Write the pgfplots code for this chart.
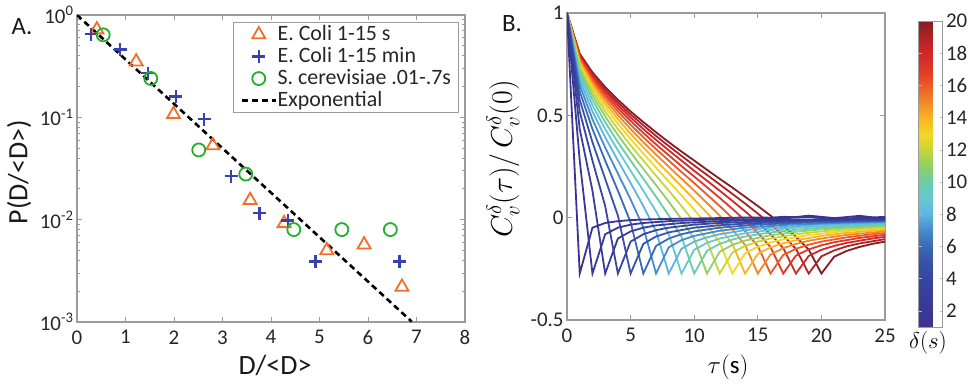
\documentclass[border=0pt]{standalone}
\usepackage{fix-cm}
\usepackage{pgfplots}
\pgfplotsset{compat=1.18}
\usepackage{fontspec}
\setmainfont{Carlito}

\definecolor{axgray}{RGB}{155,155,155}
\definecolor{morange}{RGB}{245,110,40}
\definecolor{mblue}{RGB}{55,65,175}
\definecolor{mgreen}{RGB}{35,175,45}

\definecolor{c1}{RGB}{60,50,145}
\definecolor{c2}{RGB}{58,55,150}
\definecolor{c3}{RGB}{56,62,155}
\definecolor{c4}{RGB}{55,70,160}
\definecolor{c5}{RGB}{55,82,168}
\definecolor{c6}{RGB}{58,105,182}
\definecolor{c7}{RGB}{70,140,205}
\definecolor{c8}{RGB}{95,180,225}
\definecolor{c9}{RGB}{100,200,210}
\definecolor{c10}{RGB}{105,205,170}
\definecolor{c11}{RGB}{145,208,100}
\definecolor{c12}{RGB}{195,215,60}
\definecolor{c13}{RGB}{245,215,35}
\definecolor{c14}{RGB}{248,180,35}
\definecolor{c15}{RGB}{243,135,40}
\definecolor{c16}{RGB}{235,90,40}
\definecolor{c17}{RGB}{225,55,40}
\definecolor{c18}{RGB}{210,40,40}
\definecolor{c19}{RGB}{175,35,38}
\definecolor{c20}{RGB}{135,28,35}

\newcommand{\legfont}{\fontsize{22}{23}\selectfont}

\pgfplotsset{
  colormap={delta}{rgb255(0cm)=(60,50,145) rgb255(1cm)=(58,55,150) rgb255(2cm)=(56,62,155)
    rgb255(3cm)=(55,70,160) rgb255(4cm)=(55,82,168) rgb255(5cm)=(58,105,182)
    rgb255(6cm)=(70,140,205) rgb255(7cm)=(95,180,225) rgb255(8cm)=(100,200,210)
    rgb255(9cm)=(105,205,170) rgb255(10cm)=(145,208,100) rgb255(11cm)=(195,215,60)
    rgb255(12cm)=(245,215,35) rgb255(13cm)=(248,180,35) rgb255(14cm)=(243,135,40)
    rgb255(15cm)=(235,90,40) rgb255(16cm)=(225,55,40) rgb255(17cm)=(210,40,40)
    rgb255(18cm)=(175,35,38) rgb255(19cm)=(135,28,35)},
  every axis/.append style={
    scale only axis,
    axis line style={draw=axgray, line width=1.2bp},
    tick style={draw=axgray, line width=0.9bp},
    tick align=inside,
    major tick length=5bp, minor tick length=3bp,
    tick label style={font=\fontsize{21}{23}\selectfont, text=black!85},
  },
  dcurve/.style={line width=1.8bp, #1},
}

\begin{document}
\begin{tikzpicture}[x=1bp,y=1bp]
\path[use as bounding box] (0,0) rectangle (972,385);

% ---------------- Panel A ----------------
\begin{axis}[
  at={(77bp,63bp)}, anchor=south west,
  width=388bp, height=307bp,
  ymode=log,
  xmin=0, xmax=8, ymin=1e-3, ymax=1,
  xtick={0,1,2,3,4,5,6,7,8},
  xticklabels={0,1,2,3,4,5,6,7,8},
  xticklabel style={yshift=-5bp},
  ytick={1e-3,1e-2,1e-1,1},
  minor ytick={2e-3,3e-3,4e-3,5e-3,6e-3,7e-3,8e-3,9e-3,2e-2,3e-2,4e-2,5e-2,6e-2,7e-2,8e-2,9e-2,0.2,0.3,0.4,0.5,0.6,0.7,0.8,0.9},
  yticklabels={10\textsuperscript{-3},10\textsuperscript{-2},10\textsuperscript{-1},10\textsuperscript{0}},
  legend cell align=left,
  legend style={at={(rel axis cs:0.402,0.977)}, anchor=north west,
    draw=axgray, line width=1bp, fill=white,
    font=\legfont, text=black!85,
    inner xsep=7bp, inner ysep=1bp, row sep=0bp,
    nodes={inner sep=0.5bp, text height=16.5bp, text depth=4.5bp}},
  legend image code/.code={\draw[mark repeat=2,mark phase=2,#1] plot coordinates {(0bp,0bp) (17bp,0bp) (34bp,0bp)};},
]
\addplot[only marks, mark=triangle, mark size=7.5bp, color=morange, line width=1.8bp] coordinates {
 (0.41,0.72) (1.22,0.35) (1.99,0.107) (2.80,0.053) (3.57,0.0155) (4.27,0.0092)
 (5.15,0.0050) (5.92,0.0057) (6.70,0.0022)};
\addlegendentry{\legfont E. Coli 1-15 s}
\addplot[only marks, mark=+, mark size=6.5bp, color=mblue, line width=2.5bp] coordinates {
 (0.29,0.65) (0.89,0.46) (1.46,0.27) (2.04,0.159) (2.62,0.096) (3.18,0.0266)
 (3.76,0.0116) (4.35,0.0098) (4.92,0.0039) (6.65,0.0039)};
\addlegendentry{\legfont E. Coli 1-15 min}
\addplot[only marks, mark=o, mark size=6.5bp, color=mgreen, line width=1.8bp] coordinates {
 (0.54,0.64) (1.52,0.24) (2.51,0.048) (3.48,0.0279) (4.47,0.0080) (5.46,0.0080) (6.46,0.0080)};
\addlegendentry{\legfont S. cerevisiae .01-.7s}
\addplot[black, line width=2.6bp, dash pattern=on 6bp off 4bp] coordinates {(0,1) (6.9,0.00101)};
\addlegendentry{\legfont Exponential}
\end{axis}

% ---------------- Panel B ----------------
\begin{axis}[
  at={(567bp,65bp)}, anchor=south west,
  width=318bp, height=307bp,
  xmin=0, xmax=25, ymin=-0.5, ymax=1,
  xtick={0,5,10,15,20,25}, xticklabels={0,5,10,15,20,25},
  xticklabel style={yshift=-5bp},
  ytick={-0.5,0,0.5,1}, yticklabels={-0.5,0,0.5,1},
  colorbar, colormap name=delta,
  point meta min=1, point meta max=20,
  colorbar style={
    at={(parent axis.north east)}, anchor=north west,
    xshift=25bp, yshift=-8bp,
    width=24bp, height=306bp,
    ytick={2,4,6,8,10,12,14,16,18,20},
    yticklabels={2,4,6,8,10,12,14,16,18,20},
    yticklabel style={font=\fontsize{21}{23}\selectfont, text=black!85},
    axis line style={draw=axgray, line width=0.8bp},
    tick style={draw=axgray!70, line width=0.6bp},
    major tick length=3bp,
  },
]
\addplot[dcurve=c20] coordinates {(0,1)(1,0.801)(2,0.710)(3,0.638)(4,0.576)(5,0.519)(6,0.467)(7,0.417)(8,0.369)(9,0.323)(10,0.279)(11,0.234)(12,0.190)(13,0.147)(14,0.102)(15,0.057)(16,0.010)(17,-0.040)(18,-0.093)(19,-0.156)(20,-0.273)(21,-0.191)(22,-0.162)(23,-0.143)(24,-0.128)(25,-0.117)};
\addplot[dcurve=c19] coordinates {(0,1)(1,0.796)(2,0.702)(3,0.628)(4,0.563)(5,0.505)(6,0.451)(7,0.399)(8,0.350)(9,0.302)(10,0.255)(11,0.209)(12,0.163)(13,0.116)(14,0.069)(15,0.020)(16,-0.031)(17,-0.087)(18,-0.153)(19,-0.273)(20,-0.189)(21,-0.160)(22,-0.140)(23,-0.126)(25,-0.105)};
\addplot[dcurve=c18] coordinates {(0,1)(1,0.790)(2,0.693)(3,0.617)(4,0.550)(5,0.490)(6,0.433)(7,0.380)(8,0.329)(9,0.279)(10,0.229)(11,0.181)(12,0.132)(13,0.082)(14,0.031)(15,-0.023)(16,-0.081)(17,-0.149)(18,-0.273)(19,-0.187)(20,-0.157)(21,-0.138)(22,-0.123)(24,-0.102)(25,-0.094)};
\addplot[dcurve=c17] coordinates {(0,1)(1,0.783)(2,0.683)(3,0.604)(4,0.535)(5,0.473)(6,0.414)(7,0.358)(8,0.305)(9,0.252)(10,0.201)(11,0.149)(12,0.097)(13,0.043)(14,-0.013)(15,-0.074)(16,-0.144)(17,-0.273)(18,-0.185)(19,-0.155)(20,-0.135)(21,-0.120)(23,-0.099)(25,-0.084)};
\addplot[dcurve=c16] coordinates {(0,1)(1,0.776)(2,0.673)(3,0.591)(4,0.519)(5,0.454)(6,0.393)(7,0.335)(8,0.279)(9,0.223)(10,0.169)(11,0.113)(12,0.057)(13,-0.002)(14,-0.066)(15,-0.139)(16,-0.273)(17,-0.182)(18,-0.152)(19,-0.132)(20,-0.117)(22,-0.096)(24,-0.081)(25,-0.075)};
\addplot[dcurve=c15] coordinates {(0,1)(1,0.768)(2,0.661)(3,0.576)(4,0.501)(5,0.433)(6,0.369)(7,0.308)(8,0.249)(9,0.190)(10,0.132)(11,0.072)(12,0.010)(13,-0.057)(14,-0.134)(15,-0.273)(16,-0.180)(17,-0.149)(18,-0.128)(19,-0.113)(20,-0.102)(22,-0.084)(25,-0.067)};
\addplot[dcurve=c14] coordinates {(0,1)(1,0.759)(2,0.648)(3,0.559)(4,0.481)(5,0.410)(6,0.343)(7,0.279)(8,0.216)(9,0.153)(10,0.089)(11,0.024)(12,-0.047)(13,-0.128)(14,-0.273)(15,-0.177)(16,-0.145)(17,-0.125)(18,-0.110)(20,-0.089)(22,-0.074)(25,-0.059)};
\addplot[dcurve=c13] coordinates {(0,1)(1,0.749)(2,0.633)(3,0.540)(4,0.459)(5,0.384)(6,0.313)(7,0.244)(8,0.177)(9,0.109)(10,0.039)(11,-0.036)(12,-0.121)(13,-0.273)(14,-0.174)(15,-0.142)(16,-0.121)(17,-0.106)(19,-0.085)(21,-0.071)(23,-0.060)(25,-0.052)};
\addplot[dcurve=c12] coordinates {(0,1)(1,0.738)(2,0.617)(3,0.519)(4,0.433)(5,0.354)(6,0.279)(7,0.205)(8,0.132)(9,0.057)(10,-0.023)(11,-0.113)(12,-0.273)(13,-0.170)(14,-0.138)(15,-0.117)(16,-0.102)(18,-0.081)(20,-0.067)(22,-0.057)(25,-0.046)};
\addplot[dcurve=c11] coordinates {(0,1)(1,0.725)(2,0.598)(3,0.495)(4,0.404)(5,0.319)(6,0.238)(7,0.159)(8,0.078)(9,-0.008)(10,-0.104)(11,-0.273)(12,-0.167)(13,-0.133)(14,-0.112)(16,-0.086)(18,-0.069)(20,-0.057)(22,-0.049)(25,-0.040)};
\addplot[dcurve=c10] coordinates {(0,1)(1,0.710)(2,0.576)(3,0.467)(4,0.369)(5,0.279)(6,0.190)(7,0.102)(8,0.010)(9,-0.093)(10,-0.273)(11,-0.162)(12,-0.128)(13,-0.107)(14,-0.092)(16,-0.072)(18,-0.059)(20,-0.049)(25,-0.034)};
\addplot[dcurve=c9] coordinates {(0,1)(1,0.693)(2,0.550)(3,0.433)(4,0.329)(5,0.229)(6,0.132)(7,0.031)(8,-0.081)(9,-0.273)(10,-0.157)(11,-0.123)(12,-0.102)(14,-0.076)(16,-0.060)(18,-0.049)(21,-0.038)(25,-0.029)};
\addplot[dcurve=c8] coordinates {(0,1)(1,0.673)(2,0.519)(3,0.393)(4,0.279)(5,0.169)(6,0.057)(7,-0.066)(8,-0.273)(9,-0.152)(10,-0.117)(11,-0.096)(12,-0.081)(14,-0.061)(16,-0.049)(20,-0.034)(25,-0.025)};
\addplot[dcurve=c7] coordinates {(0,1)(1,0.648)(2,0.481)(3,0.343)(4,0.216)(5,0.089)(6,-0.047)(7,-0.273)(8,-0.145)(9,-0.110)(10,-0.089)(12,-0.064)(14,-0.049)(17,-0.036)(21,-0.026)(25,-0.020)};
\addplot[dcurve=c6] coordinates {(0,1)(1,0.617)(2,0.433)(3,0.279)(4,0.132)(5,-0.023)(6,-0.273)(7,-0.138)(8,-0.102)(9,-0.081)(10,-0.067)(12,-0.049)(15,-0.034)(18,-0.026)(25,-0.016)};
\addplot[dcurve=c5] coordinates {(0,1)(1,0.576)(2,0.369)(3,0.190)(4,0.010)(5,-0.273)(6,-0.128)(7,-0.092)(8,-0.072)(10,-0.049)(12,-0.037)(15,-0.026)(20,-0.017)(25,-0.012)};
\addplot[dcurve=c4] coordinates {(0,1)(1,0.519)(2,0.279)(3,0.057)(4,-0.273)(5,-0.117)(6,-0.081)(7,-0.061)(8,-0.049)(10,-0.034)(12,-0.026)(16,-0.017)(20,-0.012)(25,-0.009)};
\addplot[dcurve=c3] coordinates {(0,1)(1,0.433)(2,0.132)(3,-0.273)(4,-0.102)(5,-0.067)(6,-0.049)(7,-0.038)(9,-0.026)(12,-0.017)(15,-0.012)(20,-0.008)(25,-0.006)};
\addplot[dcurve=c2] coordinates {(0,1)(1,0.279)(2,-0.273)(3,-0.081)(4,-0.049)(5,-0.034)(6,-0.026)(8,-0.017)(10,-0.012)(12,-0.009)(15,-0.007)(17,-0.003)(19,0.004)(20,-0.002)(22,-0.006)(23,0.002)(25,-0.003)};
\addplot[dcurve=c1] coordinates {(0,1)(1,-0.273)(2,-0.049)(3,-0.026)(4,-0.017)(5,-0.012)(6,-0.009)(8,-0.006)(10,-0.004)(12,-0.002)(14,0.001)(16,0.000)(17,0.004)(18,0.003)(19,0.010)(20,0.004)(21,-0.002)(22,0.003)(23,0.009)(24,0.002)(25,0.003)};
\end{axis}

% ---------------- Labels ----------------
\node[font=\fontsize{25}{27}\selectfont, text=black!90] at (22bp,358bp) {A.};
\node[rotate=90, font=\fontsize{28}{30}\selectfont, text=black!90] at (19bp,213bp) {P(D/<D>)};
\node[font=\fontsize{28}{30}\selectfont, text=black!90] at (275bp,20bp) {D/<D>};
\node[font=\fontsize{25}{27}\selectfont, text=black!90] at (512bp,361bp) {B.};
\node[rotate=90, font=\fontsize{30}{32}\selectfont] at (503bp,226bp) {$C_v^{\delta}(\tau)/\,C_v^{\delta}(0)$};
\node[font=\fontsize{25}{27}\selectfont] at (728bp,18bp) {$\tau(\mathrm{s})$};
\node[font=\fontsize{23}{25}\selectfont] at (928bp,42bp) {$\delta(s)$};
\end{tikzpicture}
\end{document}
